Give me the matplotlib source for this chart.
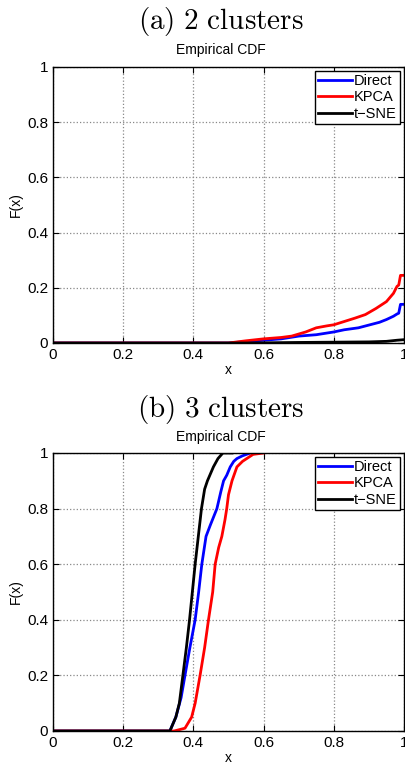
import numpy as np
import matplotlib.pyplot as plt

plt.rcParams['font.family'] = ['Liberation Sans', 'DejaVu Sans']
plt.rcParams['mathtext.fontset'] = 'cm'

# (a) 2 clusters: points (x, F(x))
a_direct_x = [0.50, 0.55, 0.60, 0.65, 0.70, 0.75, 0.80, 0.83, 0.87, 0.90, 0.93, 0.95, 0.97, 0.98, 0.985, 0.99, 1.00]
a_direct_y = [0.00, 0.005, 0.010, 0.015, 0.025, 0.030, 0.040, 0.048, 0.055, 0.065, 0.075, 0.085, 0.097, 0.105, 0.108, 0.140, 0.140]
a_kpca_x = [0.50, 0.55, 0.60, 0.65, 0.68, 0.72, 0.75, 0.78, 0.80, 0.83, 0.86, 0.89, 0.92, 0.95, 0.97, 0.98, 0.985, 0.99, 1.00]
a_kpca_y = [0.00, 0.008, 0.015, 0.020, 0.025, 0.040, 0.055, 0.062, 0.066, 0.078, 0.090, 0.103, 0.125, 0.150, 0.180, 0.205, 0.210, 0.245, 0.245]
a_tsne_x = [0.55, 0.70, 0.80, 0.90, 0.95, 0.98, 1.00]
a_tsne_y = [0.00, 0.002, 0.003, 0.004, 0.006, 0.010, 0.012]

# (b) 3 clusters
b_direct_x = [0.333, 0.350, 0.365, 0.376, 0.390, 0.405, 0.415, 0.424, 0.436, 0.448, 0.467, 0.478, 0.486, 0.495, 0.505, 0.515, 0.524, 0.540, 0.562]
b_direct_y = [0.00, 0.05, 0.12, 0.20, 0.30, 0.40, 0.50, 0.60, 0.70, 0.74, 0.80, 0.86, 0.90, 0.92, 0.95, 0.97, 0.98, 0.99, 1.00]
b_kpca_x = [0.345, 0.376, 0.395, 0.405, 0.419, 0.432, 0.443, 0.455, 0.462, 0.472, 0.481, 0.490, 0.495, 0.500, 0.510, 0.524, 0.540, 0.552, 0.570, 0.600]
b_kpca_y = [0.00, 0.01, 0.05, 0.10, 0.20, 0.30, 0.40, 0.50, 0.60, 0.66, 0.70, 0.76, 0.80, 0.85, 0.90, 0.95, 0.97, 0.98, 0.995, 1.00]
b_tsne_x = [0.333, 0.350, 0.360, 0.370, 0.380, 0.389, 0.397, 0.405, 0.414, 0.423, 0.432, 0.440, 0.457, 0.470, 0.484, 0.510]
b_tsne_y = [0.00, 0.05, 0.10, 0.20, 0.30, 0.40, 0.50, 0.60, 0.70, 0.80, 0.87, 0.90, 0.95, 0.98, 1.00, 1.00]

panels = [
    ('(a)\\ 2\\ clusters', (a_direct_x, a_direct_y), (a_kpca_x, a_kpca_y), (a_tsne_x, a_tsne_y)),
    ('(b)\\ 3\\ clusters', (b_direct_x, b_direct_y), (b_kpca_x, b_kpca_y), (b_tsne_x, b_tsne_y)),
]
labels = ['Direct', 'KPCA', 't\u2212SNE']
colors = ['#0000ff', '#ff0000', '#000000']
ticks = [0, 0.2, 0.4, 0.6, 0.8, 1]
tick_labels = ['0', '0.2', '0.4', '0.6', '0.8', '1']

W, H = 405, 762
fig = plt.figure(figsize=(W / 100, H / 100), dpi=100)
# axes boxes in pixels: left, top, right, bottom
boxes = [(53, 67, 404, 343), (53, 453, 404, 731)]
title_y = [22, 410]
sub_y = [50, 437]

for i, (title, *series) in enumerate(panels):
    l, t, r, b = boxes[i]
    ax = fig.add_axes([l / W, 1 - b / H, (r - l) / W, (b - t) / H])
    for (xs, ys), lab, c in zip(series, labels, colors):
        xs = np.concatenate([[0], xs])
        ys = np.concatenate([[0], ys])
        ax.plot(xs, ys, color=c, lw=2, label=lab)
    ax.set_xlim(0, 1)
    ax.set_ylim(0, 1)
    ax.set_xticks(ticks)
    ax.set_xticklabels(tick_labels)
    ax.set_yticks(ticks)
    ax.set_yticklabels(tick_labels)
    ax.tick_params(direction='in', top=True, right=True, labelsize=11, length=4, width=0.8)
    ax.grid(True, linestyle=':', color='#888888', lw=0.9)
    for s in ax.spines.values():
        s.set_linewidth(1.0)
    ax.set_xlabel('x', fontsize=10, labelpad=1)
    ax.set_ylabel('F(x)', fontsize=10, labelpad=3)
    leg = ax.legend(loc='upper right', fontsize=10.5, frameon=True, fancybox=False,
                    framealpha=1, edgecolor='black', handlelength=2.3,
                    handletextpad=0.15, borderpad=0.25, labelspacing=0.15,
                    borderaxespad=0.25)
    leg.get_frame().set_linewidth(1.0)
    fig.text((l + r) / 2 / W - 0.02, 1 - title_y[i] / H, '$\\mathrm{' + title + '}$',
             ha='center', va='center', fontsize=21)
    fig.text((l + r) / 2 / W - 0.02, 1 - sub_y[i] / H, 'Empirical CDF',
             ha='center', va='center', fontsize=10)

fig.savefig('out.png', dpi=100)
